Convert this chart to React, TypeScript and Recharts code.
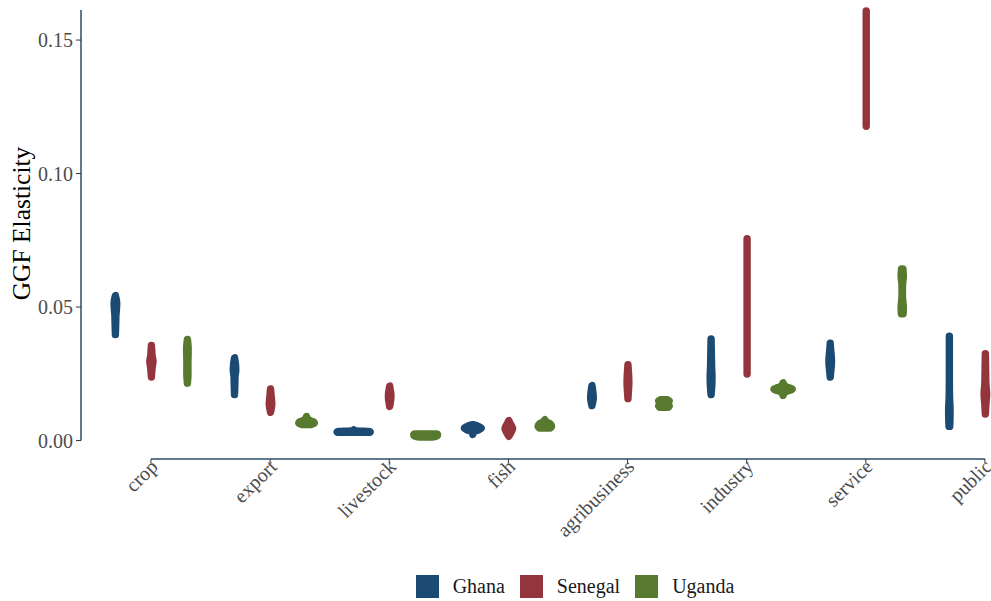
import React from 'react';
import { ComposedChart, Bar, XAxis, YAxis, Legend } from 'recharts';

const categories = ['crop', 'export', 'livestock', 'fish', 'agribusiness', 'industry', 'service', 'public'];
const countries = ['Ghana', 'Senegal', 'Uganda'];
const colors = ['#1b4a73', '#94353e', '#577a2e'];
const yTicks = [0, 0.05, 0.1, 0.15];

// min / max of each violin
const ghanaLow = [0.0397, 0.0172, 0.0031, 0.0023, 0.0131, 0.0172, 0.0238, 0.0053];
const ghanaHigh = [0.0543, 0.031, 0.004, 0.0059, 0.0206, 0.0381, 0.0365, 0.0391];
const senegalLow = [0.0238, 0.0106, 0.0128, 0.0016, 0.0157, 0.0249, 0.1177, 0.0099];
const senegalHigh = [0.0356, 0.0193, 0.0204, 0.0075, 0.0284, 0.0756, 0.1609, 0.0325];
const ugandaLow = [0.0215, 0.006, 0.0013, 0.0047, 0.0125, 0.0169, 0.0475, null];
const ugandaHigh = [0.0379, 0.009, 0.0025, 0.0078, 0.0153, 0.0216, 0.0643, null];

// relative density, sampled from min (first) to max (last)
const ghanaDensity = [
  [0, 0.01, 0.02, 0.03, 0.06, 0.07, 0],
  [0, 0.01, 0.02, 0.03, 0.07, 0.05, 0],
  [0.9, 0.92, 0.85, 0.3, 0.05, 0.02, 0],
  [0, 0.02, 0.1, 0.35, 0.47, 0.3, 0.05],
  [0, 0.04, 0.07, 0.07, 0.05, 0.03, 0],
  [0, 0.04, 0.05, 0.03, 0.02, 0.01, 0],
  [0, 0.03, 0.06, 0.07, 0.05, 0.02, 0],
  [0.02, 0.04, 0.01, 0, 0, 0, 0],
];
const senegalDensity = [
  [0, 0.02, 0.05, 0.09, 0.04, 0.02, 0],
  [0, 0.04, 0.07, 0.06, 0.04, 0.02, 0],
  [0, 0.03, 0.06, 0.07, 0.06, 0.03, 0],
  [0, 0.08, 0.16, 0.21, 0.15, 0.07, 0],
  [0, 0.02, 0.04, 0.05, 0.04, 0.02, 0],
  [0, 0, 0, 0, 0, 0, 0],
  [0, 0, 0, 0, 0, 0, 0],
  [0, 0.03, 0.07, 0.03, 0.02, 0.01, 0],
];
const ugandaDensity = [
  [0, 0.03, 0.03, 0.03, 0.04, 0.04, 0],
  [0.25, 0.42, 0.38, 0.2, 0.08, 0.03, 0],
  [0.3, 0.5, 0.6, 0.65, 0.66, 0.66, 0.6],
  [0.3, 0.37, 0.36, 0.3, 0.15, 0.05, 0],
  [0.25, 0.3, 0.2, 0.1, 0.2, 0.3, 0.2],
  [0, 0.05, 0.2, 0.51, 0.2, 0.05, 0],
  [0.05, 0.06, 0.02, 0.01, 0.02, 0.06, 0.04],
  null,
];

const data = categories.map((cat, i) => ({
  cat,
  ghana: [ghanaLow[i], ghanaHigh[i]],
  ghanaDens: ghanaDensity[i],
  senegal: [senegalLow[i], senegalHigh[i]],
  senegalDens: senegalDensity[i],
  uganda: ugandaLow[i] == null ? null : [ugandaLow[i], ugandaHigh[i]],
  ugandaDens: ugandaDensity[i],
}));

const FONT = 'Liberation Serif';

function smoothPath(pts: number[][]) {
  let d = '';
  for (let i = 0; i < pts.length - 1; i++) {
    const p0 = pts[i - 1] || pts[i];
    const p1 = pts[i];
    const p2 = pts[i + 1];
    const p3 = pts[i + 2] || pts[i + 1];
    const c1x = p1[0] + (p2[0] - p0[0]) / 6;
    const c1y = p1[1] + (p2[1] - p0[1]) / 6;
    const c2x = p2[0] - (p3[0] - p1[0]) / 6;
    const c2y = p2[1] - (p3[1] - p1[1]) / 6;
    d += ` C${c1x},${c1y} ${c2x},${c2y} ${p2[0]},${p2[1]}`;
  }
  return d;
}

const violin = (key: string, color: string) => (props: any) => {
  const { x, y, width, height, payload } = props;
  const dens = payload[key + 'Dens'];
  if (!dens || payload[key] == null) return null;
  const top = Math.min(y, y + height);
  const bot = Math.max(y, y + height);
  const cx = x + width / 2;
  const half = width / 2;
  const n = dens.length;
  const right = dens.map((d: number, i: number) => [cx + d * half, bot - (i / (n - 1)) * (bot - top)]);
  const left = right.map((p: number[]) => [2 * cx - p[0], p[1]]).reverse();
  const d =
    `M${right[0][0]},${right[0][1]}` +
    smoothPath(right) +
    ` L${left[0][0]},${left[0][1]}` +
    smoothPath(left) +
    ' Z';
  return <path d={d} fill={color} stroke={color} strokeWidth={7.4} strokeLinejoin="round" />;
};

const XTick = ({ x, y, payload }: any) => (
  <g transform={`translate(${x + 8},${y + 3})`}>
    <text transform="rotate(-45)" textAnchor="end" fontSize={20} fontFamily={FONT} fill="#4d4d4d">
      {payload.value}
    </text>
  </g>
);

const YTitle = ({ viewBox }: any) => {
  const vb = viewBox || { x: 0, y: 0, width: 81, height: 459 };
  const cx = vb.x + 30;
  const cy = vb.y + vb.height / 2 - 6;
  return (
    <text
      x={cx}
      y={cy}
      transform={`rotate(-90, ${cx}, ${cy})`}
      textAnchor="middle"
      fontSize={25.5}
      fontFamily={FONT}
      fill="#000"
    >
      GGF Elasticity
    </text>
  );
};

const renderLegend = () => (
  <div
    style={{
      display: 'flex',
      justifyContent: 'center',
      alignItems: 'center',
      height: 24,
      fontFamily: FONT,
      fontSize: 20,
      color: '#1a1a1a',
    }}
  >
    {countries.map((c, i) => (
      <div key={c} style={{ display: 'flex', alignItems: 'center', marginRight: i < countries.length - 1 ? 15 : 0 }}>
        <span style={{ display: 'inline-block', width: 23, height: 23, background: colors[i], marginRight: 14 }} />
        <span>{c}</span>
      </div>
    ))}
  </div>
);

export default function App() {
  return (
    <div style={{ position: 'fixed', left: 0, top: 0, width: 991, height: 601, overflow: 'hidden', background: '#fff' }}>
      <ComposedChart
        width={1150}
        height={601}
        data={data}
        margin={{ top: 0, right: 105.5, bottom: 3, left: 0 }}
        barGap={0}
      >
        <XAxis
          dataKey="cat"
          type="category"
          padding={{ left: 10.4, right: 0 }}
          height={115}
          tick={<XTick />}
          tickSize={4}
          tickMargin={2}
          tickLine={{ stroke: '#333' }}
          axisLine={{ stroke: '#2c4d6e', strokeWidth: 1.5, strokeDasharray: '0 70 834 2000' }}
          interval={0}
        />
        <YAxis
          type="number"
          width={81}
          domain={[-0.0069, 0.165]}
          allowDataOverflow
          ticks={yTicks}
          tickFormatter={(v: number) => v.toFixed(2)}
          tick={{ fill: '#4d4d4d', fontSize: 20, fontFamily: FONT }}
          tickSize={5}
          tickMargin={3}
          tickLine={{ stroke: '#333' }}
          axisLine={{ stroke: '#2c4d6e', strokeWidth: 1.5, strokeDasharray: '0 10 430.5 1000' }}
          label={<YTitle />}
        />
        <Legend verticalAlign="bottom" content={renderLegend} wrapperStyle={{ left: 0, width: 1150, bottom: 3 }} />
        <Bar dataKey="ghana" name="Ghana" barSize={36} fill={colors[0]} shape={violin('ghana', colors[0])} isAnimationActive={false} />
        <Bar dataKey="senegal" name="Senegal" barSize={36} fill={colors[1]} shape={violin('senegal', colors[1])} isAnimationActive={false} />
        <Bar dataKey="uganda" name="Uganda" barSize={36} fill={colors[2]} shape={violin('uganda', colors[2])} isAnimationActive={false} />
      </ComposedChart>
    </div>
  );
}
